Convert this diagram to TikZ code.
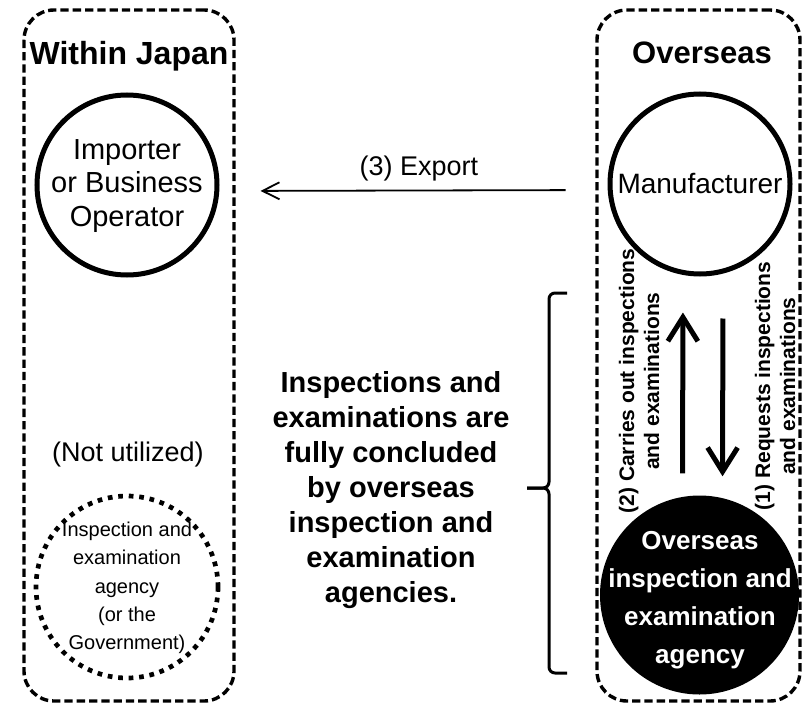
\documentclass[tikz,border=0pt]{standalone}
\usepackage{fontspec}
\setmainfont{Liberation Sans}
\usetikzlibrary{arrows.meta}
\tikzset{
  region/.style={rectangle, draw, line width=3.4pt, dash pattern=on 8.3pt off 4pt, rounded corners=30pt, inner sep=0pt},
  regiontitle/.style={font=\bfseries\fontsize{32}{38}\selectfont, anchor=base},
  party/.style={circle, draw, line width=5pt, minimum size=180pt, inner sep=0pt},
  unused/.style={circle, draw, line width=4.7pt, dash pattern=on 4.7pt off 5.8pt, minimum size=182pt, inner sep=0pt},
  agencystyle/.style={circle, fill=black, minimum size=199pt, inner sep=0pt},
  plain/.style={align=center, inner sep=0pt},
  sidelabel/.style={align=center, inner sep=0pt, rotate=90, font=\bfseries\fontsize{21}{25}\selectfont},
  bigarrow/.style={line width=5pt, -{Straight Barb[length=24pt, width=30pt]}},
  thinarrow/.style={line width=1.8pt, -{Straight Barb[length=17pt, width=17pt]}},
  bracestyle/.style={line width=3pt, rounded corners=6pt}
}
\begin{document}
\begin{tikzpicture}[x=1pt, y=-1pt]
\fill[white] (0,0) rectangle (808,706);
\useasboundingbox (0,0) rectangle (808,706);

% regions
\node[region, minimum width=210pt, minimum height=691pt] (jp) at (129,355.5) {};
\node[region, minimum width=203pt, minimum height=691pt] (os) at (698.5,355.5) {};
\node[regiontitle] (jpt) at (129,65) {Within Japan};
\node[regiontitle, font=\bfseries\fontsize{31}{37}\selectfont] (ost) at (702,64) {Overseas};

% parties
\node[party] (imp) at (127,185) {};
\node[plain, font=\fontsize{29}{33.5}\selectfont] (impt) at (127,186) {Importer\\or Business\\Operator};
\node[party] (man) at (700,184) {};
\node[plain, font=\fontsize{28}{33}\selectfont] (mant) at (700,184) {Manufacturer};
\node[plain, font=\fontsize{27}{32}\selectfont, anchor=base] (nu) at (128,461) {(Not utilized)};
\node[unused] (gov) at (127,587) {};
\node[plain, font=\fontsize{20}{28.2}\selectfont] (govt) at (127,588) {Inspection and\\examination\\agency\\(or the\\Government)};
\node[agencystyle] (agency) at (699.5,595) {};
\node[plain, text=white, font=\bfseries\fontsize{26}{38}\selectfont] (agencyt) at (700,600) {Overseas\\inspection and\\examination\\agency};

% export
\draw[thinarrow, shorten <=42pt, shorten >=41pt] ([yshift=-6pt]man.west) -- ([yshift=-6pt]imp.east);
\node[plain, font=\fontsize{27}{32}\selectfont, anchor=base] (exl) at (419,175) {(3) Export};

% vertical arrows
\draw[bigarrow, shorten <=22pt, shorten >=36pt] ([xshift=-17pt]agency.north) -- ([xshift=-17pt]man.south);
\draw[bigarrow, shorten <=42pt, shorten >=19pt] ([xshift=23pt]man.south) -- ([xshift=23pt]agency.north);
\node[sidelabel] (l2) at (639,381) {(2) Carries out inspections\\and examinations};
\node[sidelabel] (l1) at (775,386) {(1) Requests inspections\\and examinations};

% middle text and brace
\node[plain, font=\bfseries\fontsize{29}{35}\selectfont] (mid) at (391,490) {Inspections and\\examinations are\\fully concluded\\by overseas\\inspection and\\examination\\agencies.};
\coordinate (btop) at (567,293);
\coordinate (bbot) at (567,673);
\coordinate (btip) at (527,488);
\draw[bracestyle] (btop) -- (549,293) -- (549,488) -- (btip);
\draw[bracestyle] (bbot) -- (549,673) -- (549,488) -- (btip);
\end{tikzpicture}
\end{document}
